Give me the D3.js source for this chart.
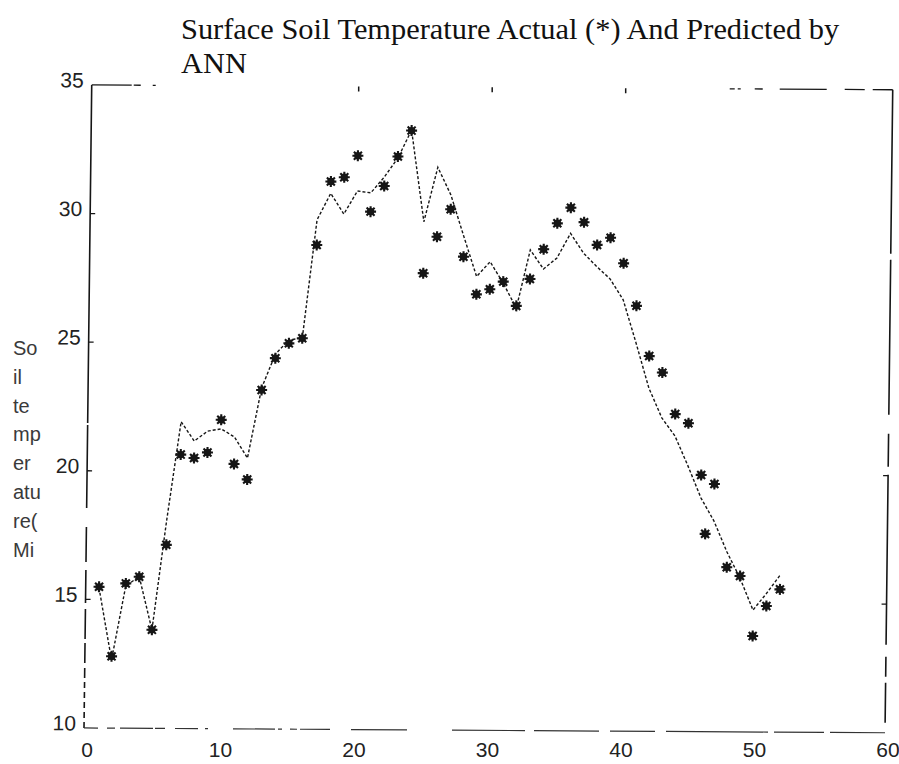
<!DOCTYPE html>
<html>
<head>
<meta charset="utf-8">
<script src="https://cdn.jsdelivr.net/npm/d3@7/dist/d3.min.js"></script>
<style>
  html, body { margin: 0; padding: 0; background: #fff; }
  svg { display: block; }
</style>
</head>
<body>
<svg id="chart" width="899" height="764"></svg>
<script>
// Measured surface soil temperature (the * markers)
const actualDay = [1, 2, 3, 4, 5, 6, 7, 8, 9, 10, 11, 12, 13, 14, 15, 16, 17, 18, 19, 20,
  21, 22, 23, 24, 25, 26, 27, 28, 29, 30, 31, 32, 33, 34, 35, 36, 37, 38, 39, 40,
  41, 42, 43, 44, 45, 46, 46.35, 47, 48, 49, 50, 51, 52];
const actualTemp = [15.49, 12.79, 15.63, 15.89, 13.83, 17.14, 20.65, 20.52, 20.74, 22.01,
  20.30, 19.70, 23.18, 24.42, 25.00, 25.20, 28.83, 31.30, 31.47, 32.31,
  30.14, 31.14, 32.29, 33.30, 27.76, 29.18, 30.25, 28.41, 26.95, 27.15,
  27.45, 26.51, 27.56, 28.72, 29.73, 30.34, 29.78, 28.90, 29.18, 28.19,
  26.54, 24.59, 23.95, 22.34, 21.99, 19.98, 17.69, 19.63, 16.40, 16.06,
  13.73, 14.90, 15.55];

// ANN prediction (dotted line)
const predictedDay = [1, 2, 3, 4, 5, 6, 7, 8, 9, 10, 11, 12, 13, 14, 15, 16, 17, 18, 19, 20,
  21, 22, 23, 24, 25, 26, 27, 28, 29, 30, 31, 32, 33, 34, 35, 36, 37, 38, 39, 40,
  41, 42, 43, 44, 45, 46, 47, 48, 49, 50, 51, 52];
const predictedTemp = [15.45, 12.65, 15.53, 15.90, 13.83, 18.07, 21.93, 21.18, 21.57, 21.66,
  21.35, 20.53, 23.26, 24.58, 25.13, 25.21, 29.81, 30.84, 30.04, 30.94,
  30.87, 31.49, 32.23, 33.32, 29.76, 31.88, 30.81, 29.21, 27.64, 28.22,
  27.39, 26.42, 28.69, 27.95, 28.38, 29.34, 28.57, 28.05, 27.58, 26.77,
  25.10, 23.35, 22.19, 21.49, 20.33, 19.09, 18.19, 16.99, 15.98, 14.74,
  15.39, 16.10];

const xTicks = [0, 10, 20, 30, 40, 50, 60];
const yTicks = [10, 15, 20, 25, 30, 35];
const titleLines = ["Surface Soil Temperature Actual (*) And Predicted by", "ANN"];
const yLabelLines = ["So", "il", "te", "mp", "er", "atu", "re(", "Mi"];

const svg = d3.select("#chart");
const ink = "#161616";

const x = d3.scaleLinear().domain([0, 60]).range([84, 885]);
const y = d3.scaleLinear().domain([10, 35]).range([728, 85]);

// The printed figure sits slightly skewed on the page
const plot = svg.append("g")
  .attr("transform", "matrix(1,0.006,-0.012,1,8.74,-0.55)");

// Frame: faded, broken print lines
const [x0, x1] = x.range();
const [yb, yt] = y.range();
const frame = plot.append("g").attr("fill", "none").attr("stroke", ink);

frame.append("line")  // left
  .attr("x1", x0).attr("y1", yt).attr("x2", x0).attr("y2", yb)
  .attr("stroke-width", 1.6)
  .attr("stroke-dasharray", "338,2,83,19,35,8,33,6,30,4,20,5,10,4,6,4,6,4,6,4,6,4,6,4");
frame.append("line")  // right
  .attr("x1", x1).attr("y1", yt).attr("x2", x1).attr("y2", yb)
  .attr("stroke-width", 1.6)
  .attr("stroke-dasharray", "164,6,155,19,33,8,170,12,20,6,40");
frame.append("line")  // top
  .attr("x1", x0).attr("y1", yt).attr("x2", x1).attr("y2", yt)
  .attr("stroke-width", 1.3)
  .attr("stroke-dasharray", "40,2,7,12,3,574,5,3,3,14,8,17,47,18,20,8,20");
frame.append("line")  // bottom
  .attr("x1", x0).attr("y1", yb).attr("x2", x1).attr("y2", yb)
  .attr("stroke-width", 1.2).attr("stroke", "#333")
  .attr("stroke-dasharray", "14,9,8,5,33,2,10,10,23,7,3,25,42,3,4,8,7,3,30,21,56,45,73,9,65,11,45,11,102,6,50,6,60");

// Inward tick marks
const tickLen = 5;
frame.selectAll(".tt").data(xTicks.slice(2, -2)).join("line")
  .attr("x1", d => x(d)).attr("x2", d => x(d))
  .attr("y1", yt).attr("y2", yt + tickLen).attr("stroke-width", 1.5);
frame.selectAll(".lt").data(yTicks.slice(1, -1)).join("line")
  .attr("x1", x0).attr("x2", x0 + tickLen)
  .attr("y1", d => y(d)).attr("y2", d => y(d)).attr("stroke-width", 1.3);
frame.selectAll(".rt").data(yTicks.slice(1, 3)).join("line")
  .attr("x1", x1).attr("x2", x1 - tickLen)
  .attr("y1", d => y(d)).attr("y2", d => y(d)).attr("stroke-width", 1.3);

// Y tick labels
const tickFont = "'Liberation Sans', Arial, sans-serif";
plot.append("g").selectAll("text").data(yTicks).join("text")
  .attr("x", x0 - 8).attr("y", d => y(d) - 5).attr("dy", "0.36em")
  .attr("text-anchor", "end")
  .attr("font-family", tickFont).attr("font-size", 21)
  .attr("fill", "#222")
  .text(d => d);

// X tick labels stay level along the bottom edge
svg.append("g").selectAll("text").data(xTicks).join("text")
  .attr("x", d => x(d) + 3).attr("y", yb + 29)
  .attr("text-anchor", "middle")
  .attr("font-family", tickFont).attr("font-size", 21)
  .attr("fill", "#222")
  .text(d => d);

// Predicted series
const line = d3.line()
  .x((d, i) => x(predictedDay[i]))
  .y(d => y(d));
plot.append("path")
  .datum(predictedTemp)
  .attr("d", line)
  .attr("fill", "none")
  .attr("stroke", ink)
  .attr("stroke-width", 1.4)
  .attr("stroke-dasharray", "3,2");

// Actual series as asterisk markers
const star = "M-5.5,0H5.5M0,-5.5V5.5M-4,-4L4,4M-4,4L4,-4";
const markers = plot.append("g").selectAll("g").data(actualTemp).join("g")
  .attr("transform", (d, i) => `translate(${x(actualDay[i])},${y(d)})`);
markers.append("path").attr("d", star)
  .attr("stroke", ink).attr("stroke-width", 2.1).attr("fill", "none");
markers.append("circle").attr("r", 3.7).attr("fill", ink);

// Title
svg.append("g").selectAll("text").data(titleLines).join("text")
  .attr("x", 181).attr("y", (d, i) => 39 + i * 34)
  .attr("font-family", "'Liberation Serif', 'Times New Roman', serif")
  .attr("font-size", 30.4)
  .attr("fill", "#111")
  .text(d => d);

// Y-axis caption, wrapped into a narrow column
svg.append("g").selectAll("text").data(yLabelLines).join("text")
  .attr("x", 13).attr("y", (d, i) => 355 + i * 28.8)
  .attr("font-family", tickFont)
  .attr("font-size", 20)
  .attr("fill", "#3a3a3a")
  .text(d => d);
</script>
</body>
</html>
